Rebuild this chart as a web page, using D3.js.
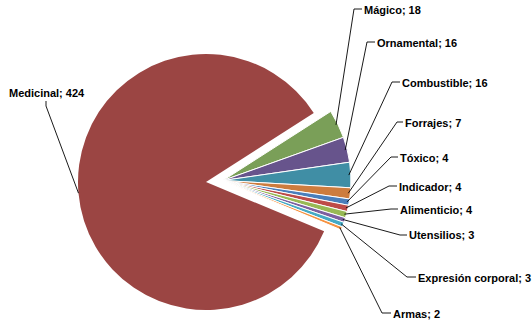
<!DOCTYPE html>
<html>
<head>
<meta charset="utf-8">
<script src="https://cdn.jsdelivr.net/npm/d3@7"></script>
<style>
  body { margin: 0; background: #fff; }
  svg text { font-family: "Liberation Sans", Arial, sans-serif; font-weight: bold; font-size: 11px; fill: #000; }
</style>
</head>
<body>
<svg id="chart" width="532" height="323"></svg>
<script>
const categories = ["Medicinal", "Mágico", "Ornamental", "Combustible", "Forrajes", "Tóxico",
  "Indicador", "Alimenticio", "Utensilios", "Expresión corporal", "Armas"];
const values = [424, 18, 16, 16, 7, 4, 4, 4, 3, 3, 2];
const colors = ["#9b4543", "#7a9f58", "#67548c", "#408ea5", "#cd7c3e", "#4a7ebb",
  "#be4b48", "#98b954", "#7d60a0", "#46aac5", "#f69240"];

// label layout: text start and baseline, leader stub start
const labelPos = [
  { x: 9, y: 97, lx: 46, ly: 101, vertical: true },
  { x: 364, y: 14, lx: 354, ly: 9 },
  { x: 377, y: 47, lx: 367, ly: 42 },
  { x: 402, y: 87, lx: 392, ly: 82 },
  { x: 405, y: 127, lx: 397, ly: 122 },
  { x: 400, y: 162, lx: 391, ly: 157 },
  { x: 399, y: 191, lx: 389, ly: 186 },
  { x: 400, y: 214, lx: 391, ly: 209 },
  { x: 409, y: 239, lx: 400, ly: 235 },
  { x: 418, y: 282, lx: 407, ly: 277 },
  { x: 393, y: 318, lx: 382, ly: 313 }
];

const cx = 206, cy = 182, radius = 128, explode = 17;
const deg = Math.PI / 180;

const svg = d3.select("#chart");

const pie = d3.pie().sort(null).value(d => d)
  .startAngle(112.67 * deg).endAngle(112.67 * deg + 2 * Math.PI);
const arcs = pie(values);

const arc = d3.arc().innerRadius(0).outerRadius(radius);

// small slices are pulled out together along their shared bisector
const groupMid = (arcs[1].startAngle + arcs[arcs.length - 1].endAngle) / 2;
const ox = explode * Math.sin(groupMid), oy = -explode * Math.cos(groupMid);

const g = svg.append("g").attr("transform", `translate(${cx},${cy})`);

g.append("path")
  .attr("d", arc(arcs[0]))
  .style("fill", colors[0]);

const small = g.append("g").attr("transform", `translate(${ox},${oy})`);
small.selectAll("path")
  .data(arcs.slice(1))
  .join("path")
  .attr("d", arc)
  .style("fill", (d, i) => colors[i + 1])
  .style("stroke", "#fff")
  .style("stroke-width", 1);

// leader lines
arcs.forEach((a, i) => {
  const mid = (a.startAngle + a.endAngle) / 2;
  const r = i === 0 ? radius : radius - 2;
  let px = cx + r * Math.sin(mid), py = cy - r * Math.cos(mid);
  if (i > 0) { px += ox; py += oy; }
  const p = labelPos[i];
  let pts;
  if (p.vertical) {
    px = cx + radius * Math.sin(mid); py = cy - radius * Math.cos(mid);
    pts = [[p.lx, p.ly], [p.lx, p.ly + 5], [px, py]];
  } else {
    pts = [[p.x - 2, p.ly], [p.lx, p.ly], [px, py]];
  }
  svg.append("path")
    .attr("d", d3.line()(pts))
    .style("fill", "none")
    .style("stroke", "#000")
    .style("stroke-width", 0.9);
  svg.append("text")
    .attr("x", p.x)
    .attr("y", p.y)
    .text(categories[i] + "; " + values[i]);
});
</script>
</body>
</html>
